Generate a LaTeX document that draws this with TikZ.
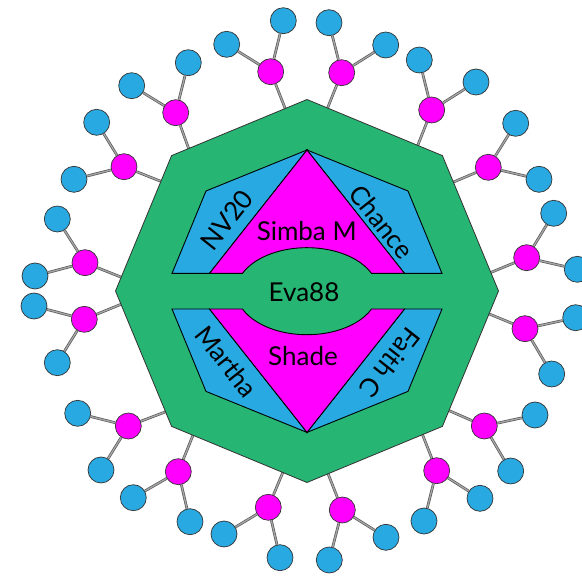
\documentclass[tikz,border=0pt]{standalone}
\usepackage{fontspec}
\setmainfont{Lato}
\pgfdeclarelayer{bg}
\pgfsetlayers{bg,main}
\definecolor{octgreen}{HTML}{26B573}
\definecolor{sky}{HTML}{29A9E1}
\definecolor{mag}{HTML}{FF00FF}
\begin{document}
\begin{tikzpicture}[x=1pt,y=-1pt,
  hub/.style={circle, draw=black!80, line width=0.7pt, fill=mag, minimum size=26pt, inner sep=0pt},
  leaf/.style={circle, draw=black!80, line width=0.7pt, fill=sky, minimum size=26pt, inner sep=0pt},
  spoke/.style={draw=black!65, line width=0.7pt, double=black!35, double distance=1.3pt},
  part/.style={draw=black, line width=0.9pt},
  lbl/.style={font=\fontsize{26}{28}\selectfont, inner sep=0pt}
]
\useasboundingbox (0,0) rectangle (582,580);

\foreach \n/\hx/\hy/\ax/\ay/\bx/\by/\cx/\cy in {
  A/175.7/112.7/188/146.7/188.3/62.7/131.7/85.7,
  B/270.7/71.7/285/108/283.3/20.7/226.7/44.3,
  C/124/166.7/160/181/96.7/122.3/74/179.3,
  D/85/262.7/120/276.7/57.3/219/35/276,
  E/341.7/72.7/327.7/107.7/329/22.7/385.7/45,
  F/431.7/110/418.3/144/419.3/60/476/82,
  G/488.3/167.3/454.3/181.7/515.7/123.3/539/179.3,
  H/526.7/257.7/492.7/271.7/553.7/213.3/577.3/269.3,
  I/84.3/319.3/119.3/305/34/306/57.3/362.7,
  J/128.3/426/164.3/412.3/77.7/413.3/101/470,
  K/178.3/471.7/192.7/436/133.3/497.7/190/521.7,
  L/268.3/507.3/282.7/472.7/224/534/280/557.7,
  M/525/328.7/489.3/314/575.7/317.7/551.7/374,
  N/484.3/426/449.3/410.7/535/415/510.7/471,
  O/436.7/470.7/423.3/436.7/480/498.3/424/521,
  P/342.3/510/328.3/474.3/386/537.3/329.3/560}
{
  \node[hub] (h\n) at (\hx,\hy) {};
  \node[leaf] (l\n1) at (\bx,\by) {};
  \node[leaf] (l\n2) at (\cx,\cy) {};
  \coordinate (a\n) at (\ax,\ay);
  \begin{pgfonlayer}{bg}
    \draw[spoke, shorten >=-5pt] (h\n) -- (a\n);
    \draw[spoke] (h\n) -- (l\n1);
    \draw[spoke] (h\n) -- (l\n2);
  \end{pgfonlayer}
}

\begin{pgfonlayer}{bg}
  \draw[fill=octgreen, draw=black!80, line width=0.8pt]
    (498.5,291) -- (442.4,155.6) -- (307,99.5) -- (171.6,155.6) -- (115.5,291)
    -- (171.6,426.4) -- (307,482.5) -- (442.4,426.4) -- cycle;
\end{pgfonlayer}

% upper parts
\draw[part, fill=sky] (307,150) -- (206,191) -- (172,273.4) -- (209.5,273.4) -- cycle;
\draw[part, fill=sky] (307,150) -- (408,191) -- (442,273.4) -- (404.5,273.4) -- cycle;
\draw[part, fill=mag] (209.5,273.4) -- (307,150) -- (404.5,273.4) -- (371.5,273.4)
  arc[start angle=-24.15, end angle=-155.85, x radius=70.7, y radius=43.5] -- cycle;
% lower parts
\draw[part, fill=sky] (307,432.4) -- (206,391.4) -- (172,309) -- (209.5,309) -- cycle;
\draw[part, fill=sky] (307,432.4) -- (408,391.4) -- (442,309) -- (404.5,309) -- cycle;
\draw[part, fill=mag] (209.5,309) -- (307,432.4) -- (404.5,309) -- (371.5,309)
  arc[start angle=24.15, end angle=155.85, x radius=70.7, y radius=43.5] -- cycle;

\node[lbl] (eva) at (304,292) {Eva88};
\node[lbl] (simba) at (306.7,231) {Simba M};
\node[lbl] (shade) at (303,356) {Shade};
\node[lbl, rotate=51.7] (nv) at (226.7,220) {NV20};
\node[lbl, rotate=-51.7] (chance) at (381.7,221.7) {Chance};
\node[lbl, rotate=-51.7] (martha) at (226.7,361.7) {Martha};
\node[lbl, rotate=-128.3] (faith) at (390,363) {Faith C};
\end{tikzpicture}
\end{document}
